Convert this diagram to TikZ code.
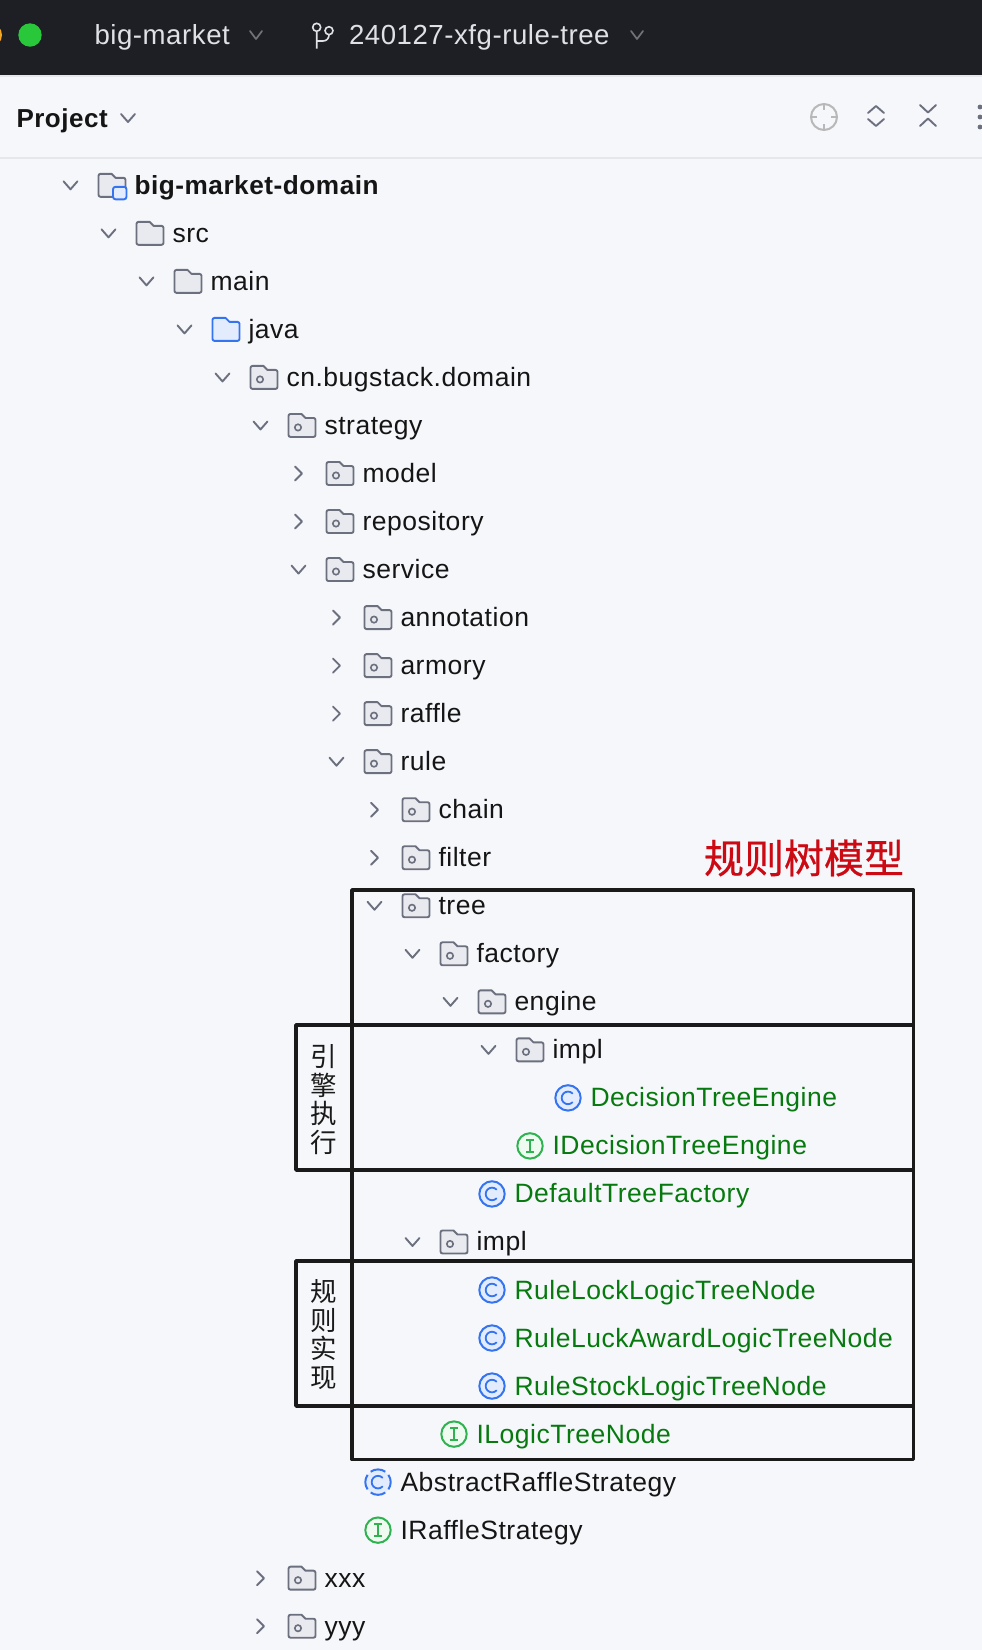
\documentclass[tikz,border=0pt]{standalone}
\usepackage{fontspec}
\setmainfont{Liberation Sans}[LetterSpace=2]
\newfontfamily\cjkfont{Noto Sans CJK SC}
\newfontfamily\cjktitle{Noto Sans CJK SC}[FakeBold=0.6]
\definecolor{pagebg}{HTML}{F6F7FB}
\definecolor{headbg}{HTML}{1E1F25}
\definecolor{headtx}{HTML}{DFE1E5}
\definecolor{headch}{HTML}{6F737A}
\definecolor{sepline}{HTML}{E6E7EB}
\definecolor{chevc}{HTML}{6C707E}
\definecolor{foldfill}{HTML}{E9EAEF}
\definecolor{bluering}{HTML}{3574F0}
\definecolor{bluefill}{HTML}{E2ECFD}
\definecolor{greenring}{HTML}{2FB351}
\definecolor{greenfill}{HTML}{EFFAF1}
\definecolor{txtgreen}{HTML}{067A0E}
\definecolor{txtblack}{HTML}{151515}
\definecolor{titlered}{HTML}{CC0A14}
\definecolor{boxblack}{HTML}{1A1A1A}
\definecolor{btngreen}{HTML}{28C83A}
\definecolor{btnorange}{HTML}{F5A623}
\tikzset{
  x=1pt,y=-1pt,
  chevline/.style={draw=chevc,line width=1.9pt,line cap=round,line join=round},
  foldline/.style={draw=chevc,fill=foldfill,line width=1.9pt,line join=round},
  treetext/.style={anchor=base west,inner sep=0pt,outer sep=0pt,font=\fontsize{26.5}{30}\selectfont},
  headtext/.style={anchor=base west,inner sep=0pt,outer sep=0pt,text=headtx,font=\fontsize{27.6}{30}\selectfont},
  framebox/.style={draw=boxblack,line width=3.5pt,line join=round},
  sidelabel/.style={inner sep=0pt,text=boxblack,font=\cjkfont\fontsize{26.5}{28.7}\selectfont,align=center},
  toolicon/.style={draw=chevc,line width=1.9pt,line cap=round,line join=round},
}
% chevrons
\newcommand{\chevdown}[2]{\draw[chevline] ({#1-7},{#2-4}) -- (#1,{#2+4}) -- ({#1+7},{#2-4});}
\newcommand{\chevright}[2]{\draw[chevline] ({#1-3.5},{#2-7}) -- ({#1+3.5},#2) -- ({#1-3.5},{#2+7});}
% folder outline at local origin
\newcommand{\foldpath}{(-13.5,-9.5) arc[start angle=180,end angle=270,radius=2] -- (-0.5,-11.5) -- (3.5,-7.5) -- (11.5,-7.5) arc[start angle=270,end angle=360,radius=2] -- (13.5,9.5) arc[start angle=0,end angle=90,radius=2] -- (-11.5,11.5) arc[start angle=90,end angle=180,radius=2] -- cycle}
\newcommand{\iconfolder}[2]{\begin{scope}[shift={(#1,#2)}]\path[foldline] \foldpath;\end{scope}}
\newcommand{\iconpkg}[2]{\begin{scope}[shift={(#1,#2)}]\path[foldline] \foldpath;\draw[chevc,line width=1.6pt] (-4,2) circle[radius=3.2];\end{scope}}
\newcommand{\iconjava}[2]{\begin{scope}[shift={(#1,#2)}]\path[foldline,draw=bluering,fill=bluefill] \foldpath;\end{scope}}
\newcommand{\iconmod}[2]{\begin{scope}[shift={(#1,#2)}]
  \path[foldline] \foldpath;
  \draw[bluering,fill=bluefill,line width=1.9pt,rounded corners=2.5pt] (1,1.5) rectangle (14.5,14);
\end{scope}}
\newcommand{\cglyph}{\draw[bluering,line width=1.8pt,line cap=round] (4.45,-4.45) arc[start angle=-45,end angle=-315,radius=6.3];}
\newcommand{\iconclass}[2]{\begin{scope}[shift={(#1,#2)}]
  \draw[bluering,fill=bluefill,line width=2pt] (0,0) circle[radius=12.7];\cglyph
\end{scope}}
\newcommand{\iconabs}[2]{\begin{scope}[shift={(#1,#2)}]
  \fill[bluefill] (0,0) circle[radius=12.7];
  \foreach \a in {0,90,180,270}{\draw[bluering,line width=2pt] ({12.7*cos(\a-35)},{12.7*sin(\a-35)}) arc[start angle=\a-35,end angle=\a+35,radius=12.7];}
  \cglyph
\end{scope}}
\newcommand{\iconiface}[2]{\begin{scope}[shift={(#1,#2)}]
  \draw[greenring,fill=greenfill,line width=2pt] (0,0) circle[radius=12.7];
  \draw[greenring,line width=1.9pt] (-4,-6) -- (4,-6) (0,-6) -- (0,6) (-4,6) -- (4,6);
\end{scope}}
% name, level, row, chevron(d/r/n), icon macro, colour, text
\newcommand{\treerow}[7]{%
  \pgfmathsetmacro{\tx}{134.5+38*#2}%
  \pgfmathsetmacro{\ty}{185.3+48.03*#3}%
  \if#4d\chevdown{\tx-64}{\ty}\fi
  \if#4r\chevright{\tx-64}{\ty}\fi
  #5{\tx-22.5}{\ty}
  \node[treetext,text=#6] (#1) at (\tx,\ty+9) {#7};
}
\begin{document}
\begin{tikzpicture}
\useasboundingbox (0,0) rectangle (982,1650);
\fill[pagebg] (0,0) rectangle (982,1650);
\fill[headbg] (0,0) rectangle (982,75);
\fill[sepline] (0,75) rectangle (982,77);
\fill[sepline] (0,157) rectangle (982,159);
% window buttons
\begin{scope}
\clip (0,0) rectangle (982,75);
\fill[btnorange] (-10,35) circle[radius=12];
\end{scope}
\fill[btngreen] (30,35) circle[radius=11.7];
% header text
\node[headtext] (projname) at (94.5,44.5) {big-market};
\draw[line width=1.7pt,draw=headch,line cap=round,line join=round] (250,31) -- (256,39) -- (262,31);
\draw[line width=1.6pt,draw=headtx] (316.7,27.3) circle[radius=4] (329,30.7) circle[radius=4] (316.7,31.3) -- (316.7,48.5);
\draw[line width=1.6pt,draw=headtx] (316.7,41) -- (323,41) .. controls (327,41) and (329,38) .. (329,34.7);
\node[headtext] (branchname) at (349,44.5) {240127-xfg-rule-tree};
\draw[line width=1.7pt,draw=headch,line cap=round,line join=round] (631,31) -- (637,39) -- (643,31);
% project bar
\node[treetext,text=txtblack,font=\fontsize{26}{30}\selectfont\bfseries] (projlabel) at (16.5,127) {Project};
\chevdown{128}{118}
\draw[draw=black!28,line width=2pt] (824,117) circle[radius=13];
\draw[draw=black!28,line width=2pt] (824,104) -- (824,110) (824,124) -- (824,130) (811,117) -- (817,117) (831,117) -- (837,117);
\draw[toolicon] (868,113) -- (876,106) -- (884,113) (868,119) -- (876,126) -- (884,119);
\draw[toolicon] (920,105) -- (928,112.5) -- (936,105) (920,126) -- (928,118.5) -- (936,126);
\fill[chevc] (980,107) circle[radius=2.4] (980,117) circle[radius=2.4] (980,127) circle[radius=2.4];
% tree
\treerow{rdomain}{0}{0}{d}{\iconmod}{txtblack}{\fontsize{26.2}{30}\selectfont\bfseries big-market-domain}
\treerow{rsrc}{1}{1}{d}{\iconfolder}{txtblack}{src}
\treerow{rmain}{2}{2}{d}{\iconfolder}{txtblack}{main}
\treerow{rjava}{3}{3}{d}{\iconjava}{txtblack}{java}
\treerow{rcn}{4}{4}{d}{\iconpkg}{txtblack}{cn.bugstack.domain}
\treerow{rstrategy}{5}{5}{d}{\iconpkg}{txtblack}{strategy}
\treerow{rmodel}{6}{6}{r}{\iconpkg}{txtblack}{model}
\treerow{rrepo}{6}{7}{r}{\iconpkg}{txtblack}{repository}
\treerow{rservice}{6}{8}{d}{\iconpkg}{txtblack}{service}
\treerow{rannot}{7}{9}{r}{\iconpkg}{txtblack}{annotation}
\treerow{rarmory}{7}{10}{r}{\iconpkg}{txtblack}{armory}
\treerow{rraffle}{7}{11}{r}{\iconpkg}{txtblack}{raffle}
\treerow{rrule}{7}{12}{d}{\iconpkg}{txtblack}{rule}
\treerow{rchain}{8}{13}{r}{\iconpkg}{txtblack}{chain}
\treerow{rfilter}{8}{14}{r}{\iconpkg}{txtblack}{filter}
\treerow{rtree}{8}{15}{d}{\iconpkg}{txtblack}{tree}
\treerow{rfactory}{9}{16}{d}{\iconpkg}{txtblack}{factory}
\treerow{rengine}{10}{17}{d}{\iconpkg}{txtblack}{engine}
\treerow{rimpla}{11}{18}{d}{\iconpkg}{txtblack}{impl}
\treerow{rdte}{12}{19}{n}{\iconclass}{txtgreen}{DecisionTreeEngine}
\treerow{ridte}{11}{20}{n}{\iconiface}{txtgreen}{IDecisionTreeEngine}
\treerow{rdtf}{10}{21}{n}{\iconclass}{txtgreen}{DefaultTreeFactory}
\treerow{rimplb}{9}{22}{d}{\iconpkg}{txtblack}{impl}
\treerow{rlock}{10}{23}{n}{\iconclass}{txtgreen}{RuleLockLogicTreeNode}
\treerow{rluck}{10}{24}{n}{\iconclass}{txtgreen}{RuleLuckAwardLogicTreeNode}
\treerow{rstock}{10}{25}{n}{\iconclass}{txtgreen}{RuleStockLogicTreeNode}
\treerow{rilogic}{9}{26}{n}{\iconiface}{txtgreen}{ILogicTreeNode}
\treerow{rabs}{7}{27}{n}{\iconabs}{txtblack}{AbstractRaffleStrategy}
\treerow{rirs}{7}{28}{n}{\iconiface}{txtblack}{IRaffleStrategy}
\treerow{rxxx}{5}{29}{r}{\iconpkg}{txtblack}{xxx}
\treerow{ryyy}{5}{30}{r}{\iconpkg}{txtblack}{yyy}
% frames
\path[framebox] (352,890) rectangle (913.5,1459.5);
\path[framebox] (296,1025) rectangle (913.5,1170);
\path[framebox] (296,1261) rectangle (913.5,1406);
\path[framebox] (352,1025) -- (352,1170) (352,1261) -- (352,1406);
% labels
\node[sidelabel] (labelengine) at (324,1099.5) {引\\擎\\执\\行};
\node[sidelabel] (labelrule) at (324,1334.5) {规\\则\\实\\现};
\node[inner sep=0pt,text=titlered,font=\cjktitle\fontsize{40}{44}\selectfont] (title) at (804,858) {规则树模型};
\end{tikzpicture}
\end{document}
